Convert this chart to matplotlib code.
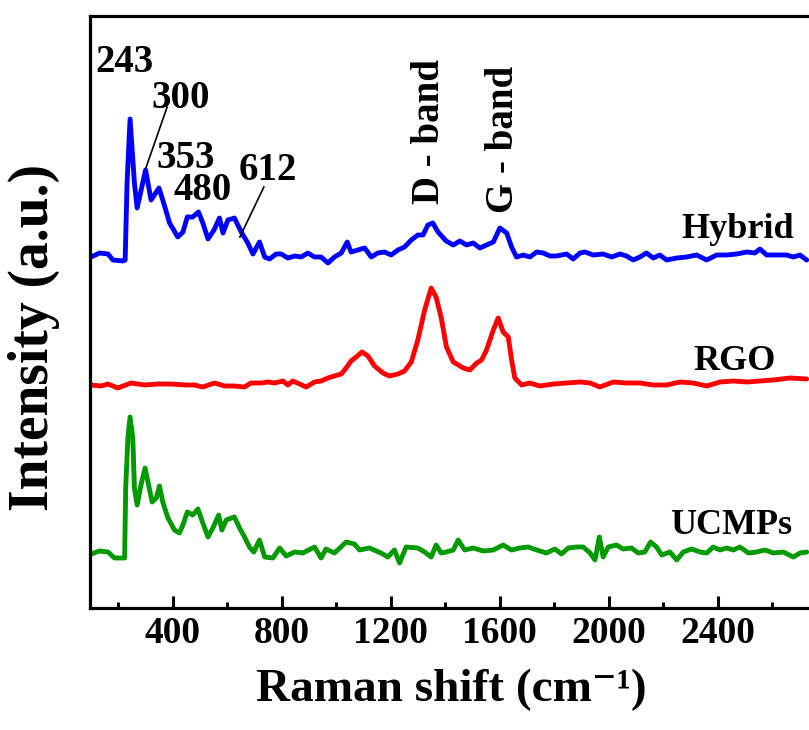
import matplotlib
matplotlib.use("Agg")
import matplotlib.pyplot as plt
from matplotlib.ticker import MultipleLocator
import numpy as np

plt.rcParams['font.family'] = ['Liberation Serif', 'DejaVu Serif']
plt.rcParams['font.weight'] = 'bold'

# ---- data (offset, stacked intensities in a.u.) ----
hybrid_x = [101, 132, 163, 181, 218, 226, 233, 244, 260, 270, 301, 321, 350, 364, 389, 419, 438, 454, 474, 495,
            511, 530, 552, 572, 585, 603, 627, 652, 676, 695, 719, 738, 756, 780, 799, 823, 848, 872, 896, 921,
            945, 970, 994, 1019, 1041, 1055, 1080, 1105, 1129, 1153, 1178, 1202, 1227, 1251, 1276, 1300, 1319,
            1337, 1355, 1374, 1404, 1430, 1454, 1479, 1503, 1528, 1552, 1577, 1601, 1626, 1644, 1662, 1687,
            1711, 1736, 1760, 1785, 1809, 1846, 1870, 1895, 1913, 1944, 1980, 2011, 2042, 2066, 2090, 2115,
            2139, 2164, 2188, 2213, 2250, 2286, 2323, 2360, 2396, 2433, 2470, 2507, 2537, 2555, 2580, 2617,
            2653, 2678, 2702, 2727]
hybrid_y = [351, 355, 354, 348, 347, 348, 425, 489, 425, 400, 438, 408, 420, 408, 385, 371, 376, 391, 391, 396,
            385, 369, 378, 390, 375, 388, 390, 376, 365, 354, 366, 351, 349, 354, 354, 350, 352, 351, 355, 351,
            351, 345, 351, 355, 366, 356, 358, 360, 351, 355, 356, 353, 358, 361, 368, 373, 373,
            383, 385, 376, 367, 363, 367, 363, 365, 360, 363, 366, 380, 375, 361, 351, 353,
            351, 356, 355, 352, 352, 354, 349, 355, 356, 353, 354, 351, 354, 352, 348, 351,
            355, 350, 353, 348, 350, 351, 353, 348, 353, 353, 354, 356, 355, 359, 353, 353,
            353, 351, 353, 348]

rgo_x = [101, 138, 163, 199, 248, 297, 346, 395, 444, 481, 511, 554, 591, 627, 664, 688, 725, 750, 774, 805,
         823, 841, 866, 890, 921, 945, 970, 994, 1019, 1037, 1055, 1074, 1095, 1117, 1141, 1172, 1196, 1227,
         1251, 1276, 1300, 1325, 1349, 1367, 1386, 1405, 1430, 1467, 1491, 1516, 1534, 1552, 1577, 1595,
         1613, 1632, 1644, 1656, 1681, 1711, 1748, 1797, 1846, 1895, 1932, 1968, 2017, 2066, 2115, 2164,
         2213, 2262, 2311, 2360, 2409, 2458, 2507, 2555, 2604, 2666, 2727]
rgo_y = [223, 222, 224, 220, 225, 223, 224, 224, 223, 223, 221, 225, 222, 222, 221, 225, 225, 226, 225, 227,
         223, 227, 224, 221, 226, 227, 230, 232, 234, 240, 247, 251, 256, 252, 242, 235, 232, 234,
         237, 246, 268, 298, 320, 311, 290, 261, 246, 240, 238, 245, 248, 258, 278, 290,
         276, 271, 248, 230, 223, 225, 222, 224, 225, 226, 225, 221, 226, 225, 225, 223,
         223, 226, 225, 222, 226, 227, 226, 227, 228, 230, 229]

ucmp_x = [101, 132, 163, 187, 224, 228, 236, 244, 254, 260, 270, 284, 299, 312, 325, 340, 352, 364, 383, 407,
          425, 438, 454, 474, 493, 511, 530, 548, 569, 581, 597, 627, 646, 664, 682, 698, 719, 738, 768, 793,
          817, 848, 878, 921, 945, 963, 994, 1037, 1067, 1086, 1122, 1165, 1190, 1214, 1233, 1257, 1300,
          1325, 1349, 1367, 1386, 1405, 1430, 1448, 1472, 1503, 1540, 1577, 1613, 1644, 1674, 1705, 1736,
          1772, 1803, 1827, 1852, 1883, 1907, 1932, 1950, 1966, 1980, 1999, 2029, 2053, 2084, 2109, 2133,
          2154, 2176, 2195, 2225, 2250, 2274, 2305, 2335, 2360, 2384, 2409, 2433, 2458, 2482, 2513, 2543,
          2574, 2604, 2641, 2678, 2702, 2727]
ucmp_y = [54, 57, 56, 50, 50, 120, 170, 191, 170, 120, 103, 123, 140, 123, 106, 110, 122, 106, 90, 78,
          75, 83, 96, 93, 99, 85, 71, 80, 93, 78, 88, 91, 80, 71, 61, 56, 68, 51, 50, 60,
          52, 56, 55, 61, 50, 59, 55, 66, 64, 58, 60, 55, 51, 58, 45, 61, 60,
          56, 51, 63, 55, 56, 58, 68, 58, 60, 57, 58, 63, 58, 60, 61, 58,
          55, 59, 54, 60, 61, 61, 55, 48, 71, 51, 61, 63, 59, 60, 55, 56,
          66, 61, 53, 56, 48, 56, 59, 56, 55, 61, 58, 60, 58, 61, 55, 56,
          58, 55, 56, 51, 55, 56]

series_names = ['Hybrid', 'RGO', 'UCMPs']
series_colors = ['#0000FF', '#FF0000', '#009A00']

peak_labels = ['243', '300', '353', '480', '612']
peak_label_pos = [(224, 546), (430, 510), (449, 450), (511, 418), (750, 438)]
leader_lines = [((380, 501), (302, 440)), ((735, 421), (647, 371))]
band_labels = ['D - band', 'G - band']
band_label_pos = [(1341, 477), (1616, 469)]
name_pos = [(2475, 378), (2462, 247), (2450, 83)]

xticks_major = [400, 800, 1200, 1600, 2000, 2400]

fig = plt.figure(figsize=(8.09, 7.30), dpi=100)
ax = fig.add_axes([90 / 809, 122 / 730, 736.6 / 809, 592 / 730])

for xs, ys, c in zip([hybrid_x, rgo_x, ucmp_x], [hybrid_y, rgo_y, ucmp_y], series_colors):
    ax.plot(xs, ys, color=c, lw=3.5, solid_joinstyle='round', solid_capstyle='round')

ax.set_xlim(97, 2800)
ax.set_ylim(0, 592)
ax.set_xticks(xticks_major)
ax.set_xticklabels([str(t) for t in xticks_major])
ax.xaxis.set_minor_locator(MultipleLocator(200))
ax.set_yticks([])
ax.tick_params(axis='x', which='major', direction='in', length=8.5, width=2.2, pad=6,
               labelsize=27, top=False)
ax.tick_params(axis='x', which='minor', direction='in', length=4.3, width=2.2, top=False)
for s in ax.spines.values():
    s.set_linewidth(2.3)

for txt, (x, y) in zip(peak_labels, peak_label_pos):
    ax.text(x, y, txt, fontsize=28, fontweight='bold', ha='center', va='center')
for (p0, p1) in leader_lines:
    ax.plot([p0[0], p1[0]], [p0[1], p1[1]], color='black', lw=1.2)
for txt, (x, y) in zip(band_labels, band_label_pos):
    ax.text(x, y, txt, fontsize=28, fontweight='bold', ha='center', va='center', rotation=90)
for txt, (x, y) in zip(series_names, name_pos):
    ax.text(x, y, txt, fontsize=26, fontweight='bold', ha='center', va='center')

fig.text(451 / 809, 1 - 690 / 730, 'Raman shift (cm\u207b\u00b9)', fontsize=34, fontweight='bold',
         ha='center', va='center')
fig.text(34 / 809, 1 - 337 / 730, 'Intensity (a.u.)', fontsize=40, fontweight='bold',
         ha='center', va='center', rotation=90)

fig.savefig('out.png', dpi=100)
